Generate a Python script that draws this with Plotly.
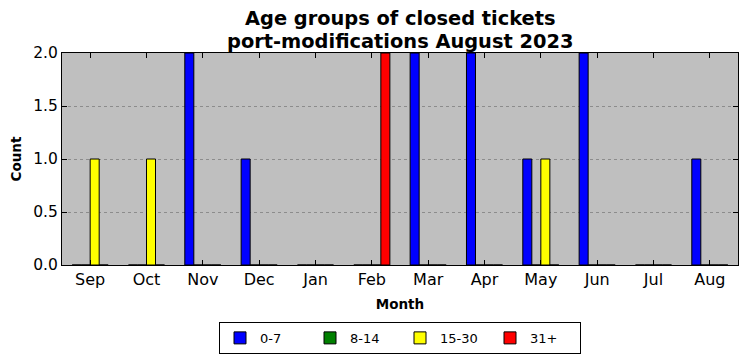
import plotly.graph_objects as go

months = ["Sep", "Oct", "Nov", "Dec", "Jan", "Feb", "Mar", "Apr", "May", "Jun", "Jul", "Aug"]
age_0_7 = [0, 0, 2, 1, 0, 0, 2, 2, 1, 2, 0, 1]
age_8_14 = [0, 0, 0, 0, 0, 0, 0, 0, 0, 0, 0, 0]
age_15_30 = [1, 1, 0, 0, 0, 0, 0, 0, 1, 0, 0, 0]
age_31_plus = [0, 0, 0, 0, 0, 2, 0, 0, 0, 0, 0, 0]
title_lines = ["Age groups of closed tickets", "port-modifications August 2023"]

series = [
    ("0-7", age_0_7, "#0000ff"),
    ("8-14", age_8_14, "#008000"),
    ("15-30", age_15_30, "#ffff00"),
    ("31+", age_31_plus, "#ff0000"),
]

fig = go.Figure()
for name, vals, color in series:
    fig.add_trace(go.Bar(
        x=months, y=vals, name=name,
        marker=dict(color=color, line=dict(color="black", width=1)),
    ))

font = "DejaVu Sans"
W, H = 739, 353
for text, ypos in zip(title_lines, [1.1604, 1.0566]):
    fig.add_annotation(
        text="<b>" + text + "</b>", xref="paper", yref="paper",
        x=0.5, y=ypos, xanchor="center", yanchor="middle",
        showarrow=False, font=dict(size=19.4, family=font, color="black"),
    )

fig.update_layout(
    width=W, height=H,
    margin=dict(l=54, r=9, t=45, b=96, autoexpand=False),
    paper_bgcolor="white",
    plot_bgcolor="#bfbfbf",
    barmode="group",
    bargap=0.36,
    bargroupgap=0,
    font=dict(family=font, color="black"),
    showlegend=True,
    legend=dict(
        orientation="h", x=0.5, xanchor="center", y=-0.344, yanchor="middle",
        bordercolor="black", borderwidth=1, bgcolor="white",
        font=dict(size=13, family=font),
        entrywidth=45, itemwidth=30,
    ),
    xaxis=dict(
        title=dict(text="<b>Month</b>", font=dict(size=13.5, family=font), standoff=11),
        range=[-0.5, 11.5], automargin=False,
        showline=True, linecolor="black", linewidth=1, mirror="ticks",
        ticks="inside", ticklen=5, tickcolor="black",
        tickfont=dict(size=16, family=font),
        showgrid=False, zeroline=False,
    ),
    yaxis=dict(
        title=dict(text="<b>Count</b>", font=dict(size=13.5, family=font), standoff=9),
        range=[0, 2], automargin=False,
        tickvals=[0, 0.5, 1, 1.5, 2], ticktext=["0.0", "0.5", "1.0", "1.5", "2.0"],
        showline=True, linecolor="black", linewidth=1, mirror="ticks",
        ticks="inside", ticklen=5, tickcolor="black",
        tickfont=dict(size=15.5, family=font),
        showgrid=True, gridcolor="#8c8c8c", griddash="dot", gridwidth=1,
        zeroline=False,
    ),
)

fig.write_html("out.html")
